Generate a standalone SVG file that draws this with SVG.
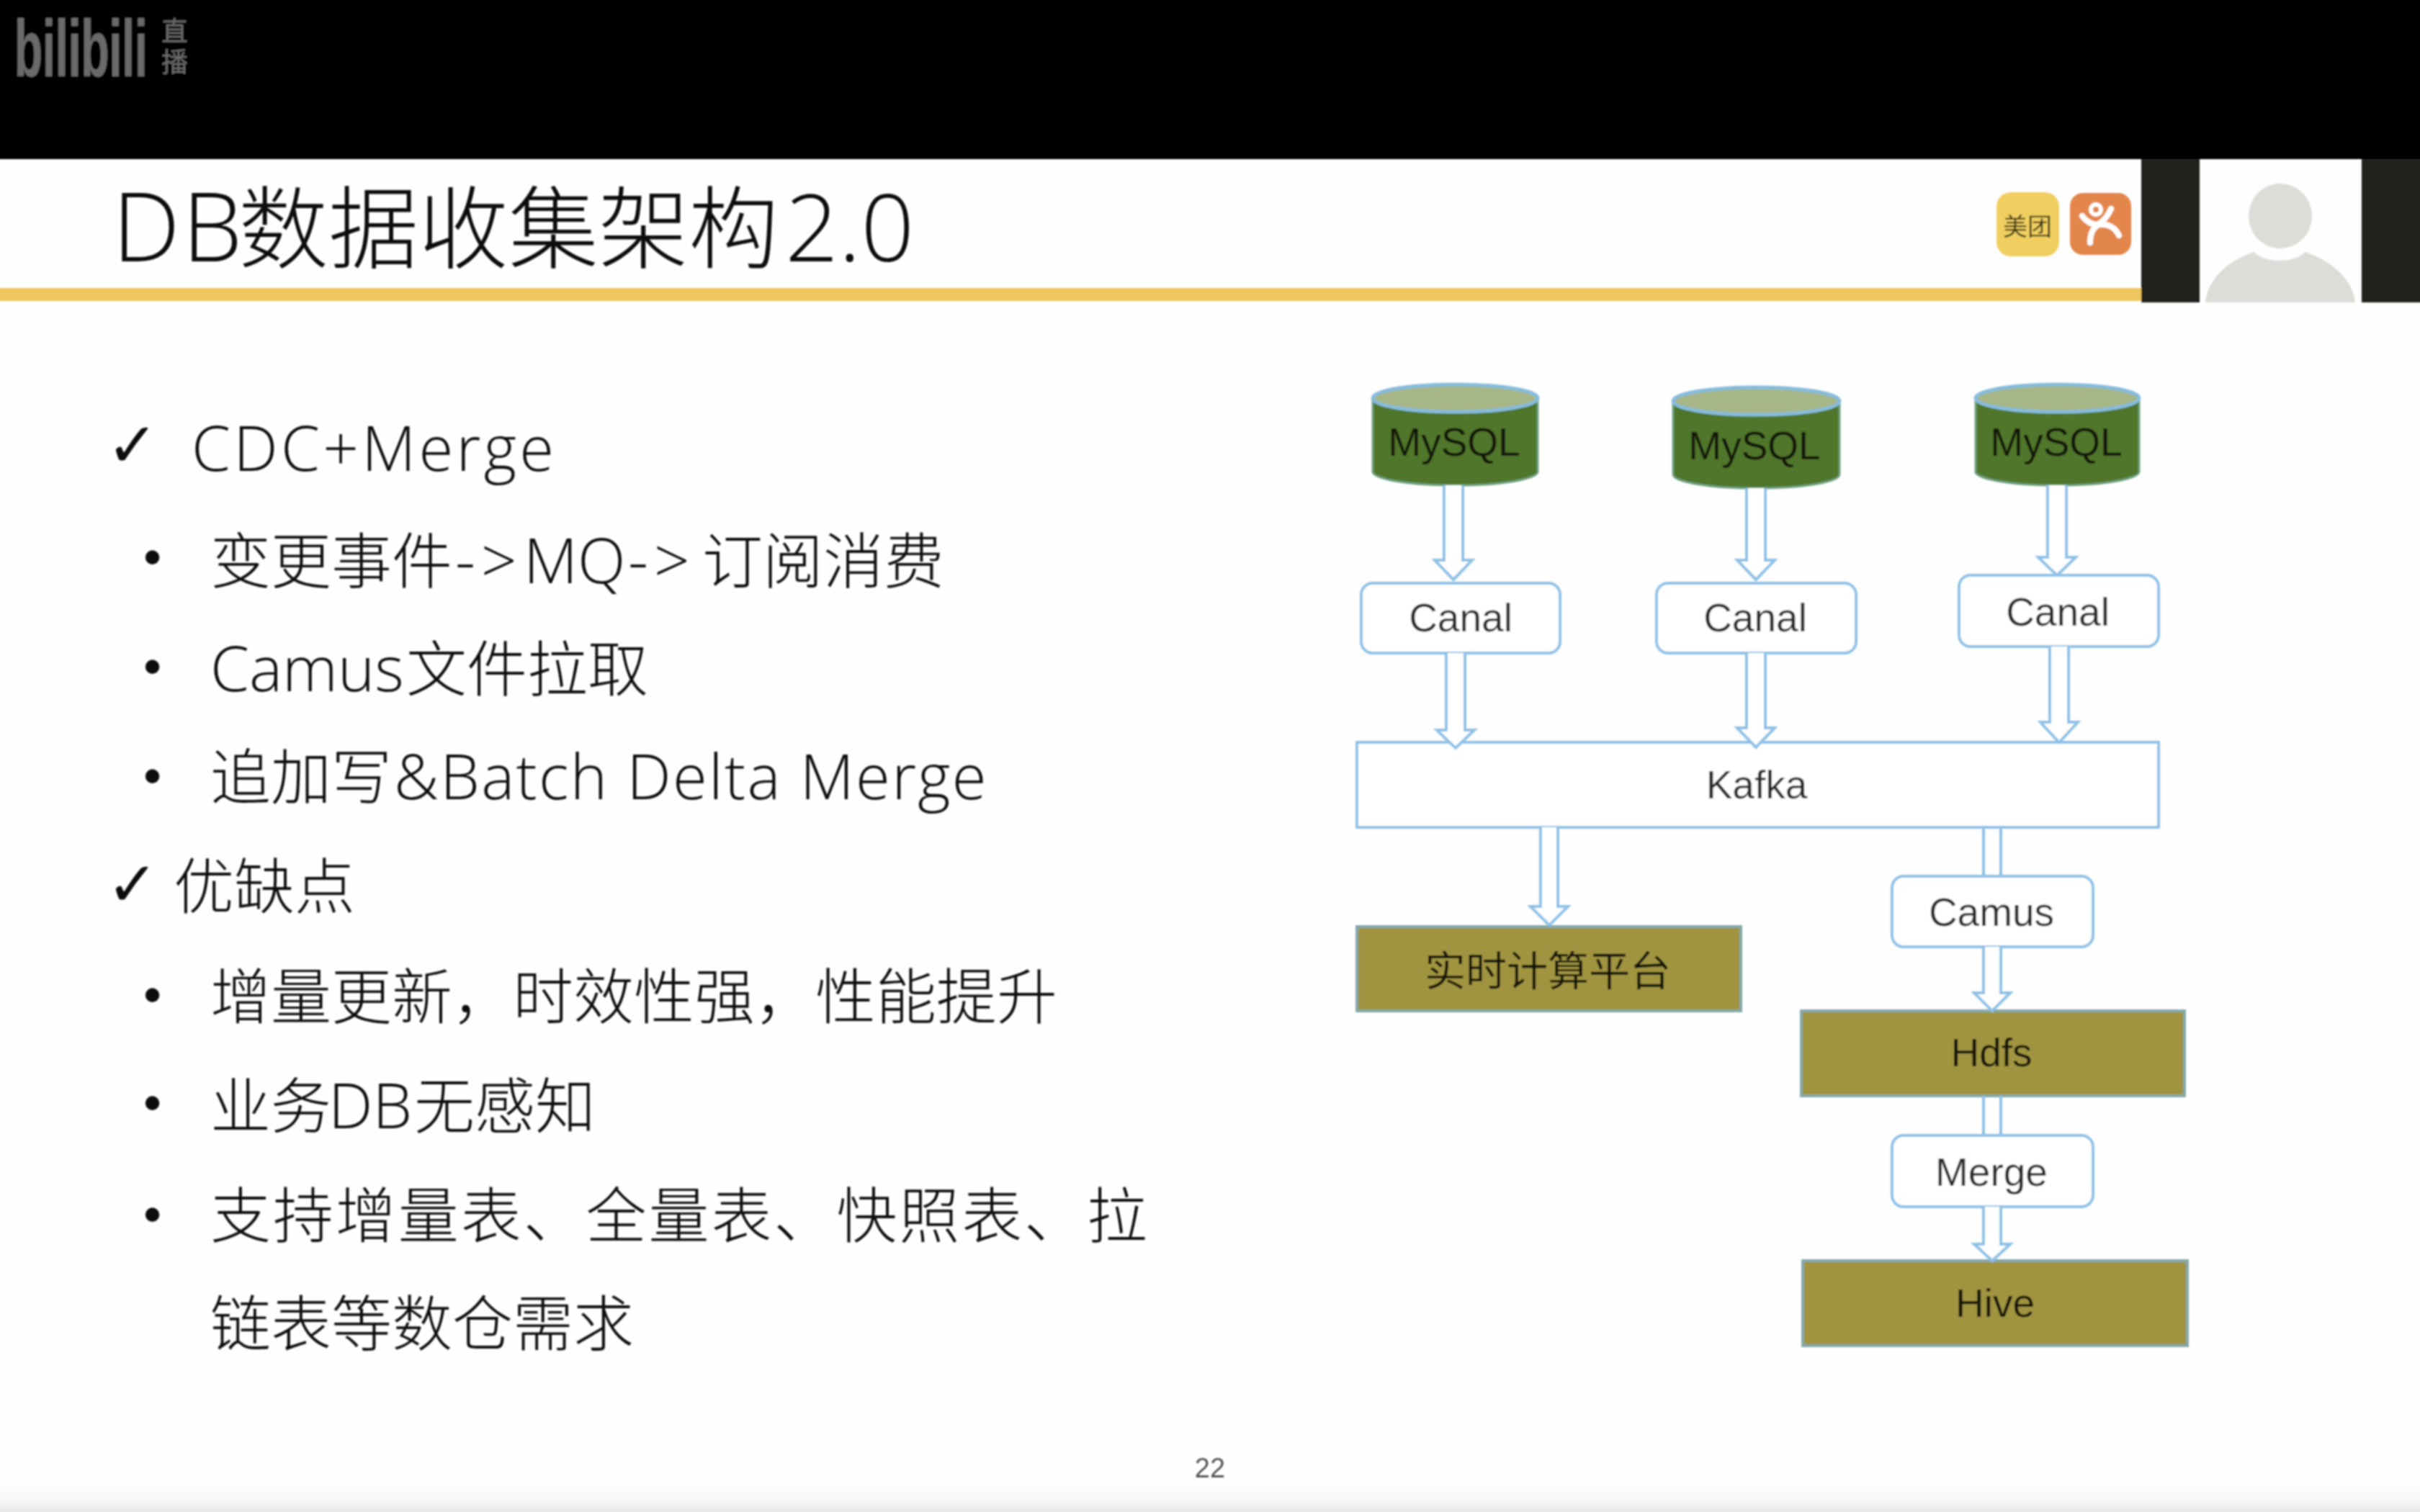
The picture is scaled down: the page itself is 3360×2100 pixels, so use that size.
<svg xmlns="http://www.w3.org/2000/svg" width="3360" height="2100" viewBox="0 0 3360 2100">
<style>
.body{font-family:"Noto Sans CJK SC",sans-serif;font-weight:300;font-size:84px;fill:#111}
.lat{font-family:"Open Sans","Noto Sans CJK SC",sans-serif;font-weight:300;font-size:87px}
.lbl{font-family:"Liberation Sans","Noto Sans CJK SC",sans-serif;font-size:55px;text-anchor:middle;fill:#2a2a2a}
.dark{fill:#141408}
.rr{fill:#fff;stroke:#8fc1e6;stroke-width:4}
.ol{fill:#a09440;stroke:#85a9a8;stroke-width:4}
.cyl{fill:#4f7629;stroke:#6f9f7f;stroke-width:3}
.top{fill:#a6b687;stroke:#86bcdc;stroke-width:5}
.conn path{fill:#fff;stroke:#8fc1e6;stroke-width:4}
.logo{fill:#6b6b6b}
.ck{font-family:"DejaVu Sans",sans-serif;font-size:86px;fill:#111}
.bu{font-family:"Liberation Sans",sans-serif;font-size:72px;fill:#111}
</style>
<defs>
<filter id="soft" filterUnits="userSpaceOnUse" x="-40" y="-40" width="3440" height="2180"><feGaussianBlur stdDeviation="0.9"/></filter>
<linearGradient id="fade" x1="0" y1="0" x2="0" y2="1"><stop offset="0" stop-color="#fefefe"/><stop offset="0.6" stop-color="#f8f8f8"/><stop offset="1" stop-color="#e6e6e6"/></linearGradient>
</defs>
<rect width="3360" height="2100" fill="#fefefe"/>
<rect y="2060" width="3360" height="40" fill="url(#fade)"/>
<g filter="url(#soft)">
<rect x="-30" y="-30" width="3420" height="251" fill="#000"/>
<g id="watermark">
<text transform="translate(20 106) scale(1 1.75)" class="logo" font-family="Liberation Sans, sans-serif" font-weight="700" font-size="64">bilibili</text>
<text x="224" y="57" class="logo" font-family="Liberation Sans, Noto Sans CJK SC, sans-serif" font-size="37">直</text>
<text x="224" y="100" class="logo" font-family="Liberation Sans, Noto Sans CJK SC, sans-serif" font-size="37">播</text>
</g>
<g id="header">
<rect x="-30" y="400" width="3003" height="18" fill="#efc75e"/>
<text y="363" class="body" style="font-size:125px"><tspan class="lat" x="156" style="font-size:133px" letter-spacing="3">DB</tspan><tspan x="331">数据收集架构</tspan><tspan class="lat" x="1090" style="font-size:130px">2.0</tspan></text>
<rect x="2772" y="267" width="87" height="89" rx="20" fill="#f0cf60"/>
<text x="2815" y="327" text-anchor="middle" font-family="Noto Sans CJK SC, sans-serif" font-size="34" fill="#3a3414">美团</text>
<rect x="2874" y="268" width="85" height="86" rx="18" fill="#e3864b"/>
<g fill="none" stroke="#fff" stroke-width="8" stroke-linecap="round">
<circle cx="2910" cy="291" r="7" stroke-width="6"/>
<path d="M2891 300Q2900 312 2912 312Q2924 306 2931 290"/>
<path d="M2902 337Q2902 318 2914 312Q2934 310 2942 327"/>
</g>
</g>
<g id="webcam">
<rect x="2973" y="221" width="81" height="199" fill="#22221e"/>
<rect x="3279" y="221" width="111" height="199" fill="#22221e"/>
<ellipse cx="3166" cy="300" rx="44" ry="45" fill="#dcdcd8"/>
<path d="M3062 420C3066 385 3095 362 3129 350C3145 366 3185 366 3201 350C3235 362 3266 385 3270 420Z" fill="#dcdcd8"/>
</g>
<g id="bullets">
<text x="148" y="648" class="ck">✓</text>
<text x="266" y="654" class="lat" fill="#111" textLength="503">CDC+Merge</text>
<text x="199" y="798" class="bu">•</text>
<text y="810" class="body"><tspan x="292">变更事件</tspan><tspan class="lat" x="632" letter-spacing="8">-&gt;</tspan><tspan class="lat" x="727">MQ</tspan><tspan class="lat" x="872" letter-spacing="8">-&gt;</tspan><tspan x="975">订阅消费</tspan></text>
<text x="199" y="950" class="bu">•</text>
<text y="960" class="body"><tspan class="lat" x="292">Camus</tspan><tspan x="564">文件拉取</tspan></text>
<text x="199" y="1102" class="bu">•</text>
<text y="1110" class="body"><tspan x="292">追加写</tspan><tspan class="lat" x="547" letter-spacing="2.300">&amp;Batch Delta Merge</tspan></text>
<text x="148" y="1258" class="ck">✓</text>
<text x="241" y="1262" class="body">优缺点</text>
<text x="199" y="1406" class="bu">•</text>
<text x="292" y="1415" class="body" textLength="1176">增量更新，时效性强，性能提升</text>
<text x="199" y="1556" class="bu">•</text>
<text y="1567" class="body"><tspan x="292">业务</tspan><tspan class="lat" x="456">DB</tspan><tspan x="575">无感知</tspan></text>
<text x="199" y="1711" class="bu">•</text>
<text x="292" y="1719" class="body" textLength="1301">支持增量表、全量表、快照表、拉</text>
<text x="292" y="1869" class="body">链表等数仓需求</text>
</g>
<g id="nodes">
<g id="mysql1"><path class="cyl" d="M1906 553V655A114.500 19 0 0 0 2135 655V553Z"/><ellipse class="top" cx="2020.500" cy="553" rx="114.500" ry="19"/><text x="2019" y="633" class="lbl dark">MySQL</text></g>
<g id="mysql2"><path class="cyl" d="M2323 557V659A115.500 19 0 0 0 2554 659V557Z"/><ellipse class="top" cx="2438.500" cy="557" rx="115.500" ry="19"/><text x="2436" y="638" class="lbl dark">MySQL</text></g>
<g id="mysql3"><path class="cyl" d="M2743 553V655A113.500 19 0 0 0 2970 655V553Z"/><ellipse class="top" cx="2856.500" cy="553" rx="113.500" ry="19"/><text x="2855" y="633" class="lbl dark">MySQL</text></g>
<g id="canal1"><rect class="rr" x="1890" y="810" width="276" height="97" rx="16"/><text x="2028" y="877" class="lbl">Canal</text></g>
<g id="canal2"><rect class="rr" x="2300" y="810" width="277" height="97" rx="16"/><text x="2437" y="877" class="lbl">Canal</text></g>
<g id="canal3"><rect class="rr" x="2720" y="799" width="277" height="99" rx="16"/><text x="2857" y="869" class="lbl">Canal</text></g>
<g id="kafka"><rect class="rr" x="1884" y="1031" width="1113" height="118"/><text x="2439" y="1109" class="lbl">Kafka</text></g>
<g id="realtime"><rect class="ol" x="1884" y="1287" width="533" height="117"/><text x="2149" y="1369" class="lbl dark" style="font-size:57px">实时计算平台</text></g>
<g id="camus"><rect class="rr" x="2627" y="1217" width="279" height="98" rx="16"/><text x="2765" y="1286" class="lbl">Camus</text></g>
<g id="hdfs"><rect class="ol" x="2501" y="1404" width="532" height="118"/><text x="2765" y="1481" class="lbl dark">Hdfs</text></g>
<g id="merge"><rect class="rr" x="2627" y="1577" width="279" height="99" rx="16"/><text x="2765" y="1647" class="lbl">Merge</text></g>
<g id="hive"><rect class="ol" x="2503" y="1751" width="534" height="118"/><text x="2770" y="1829" class="lbl dark">Hive</text></g>
</g>
<g id="connectors" class="conn">
<path d="M2005 674V778H1992L2018 805L2044 778H2031V674"/>
<path d="M2425 678V778H2412L2438 805L2464 778H2451V678"/>
<path d="M2843 674V774H2830L2856 799L2882 774H2869V674"/>
<path d="M2008 907V1014H1995L2021 1039L2047 1014H2034V907"/>
<path d="M2425 907V1011H2412L2438 1038L2464 1011H2451V907"/>
<path d="M2846 898V1003H2833L2859 1031L2885 1003H2872V898"/>
<path d="M2139 1149V1259H2125L2151 1285L2177 1259H2163V1149"/>
<path d="M2754 1149V1217M2778 1149V1217"/>
<path d="M2754 1315V1379H2741L2766 1404L2791 1379H2778V1315"/>
<path d="M2754 1522V1577M2778 1522V1577"/>
<path d="M2754 1676V1728H2741L2766 1751L2791 1728H2778V1676"/>
</g>
<text id="page" x="1680" y="2052" text-anchor="middle" font-family="Liberation Sans, sans-serif" font-size="38" fill="#555">22</text>
</g>
</svg>
